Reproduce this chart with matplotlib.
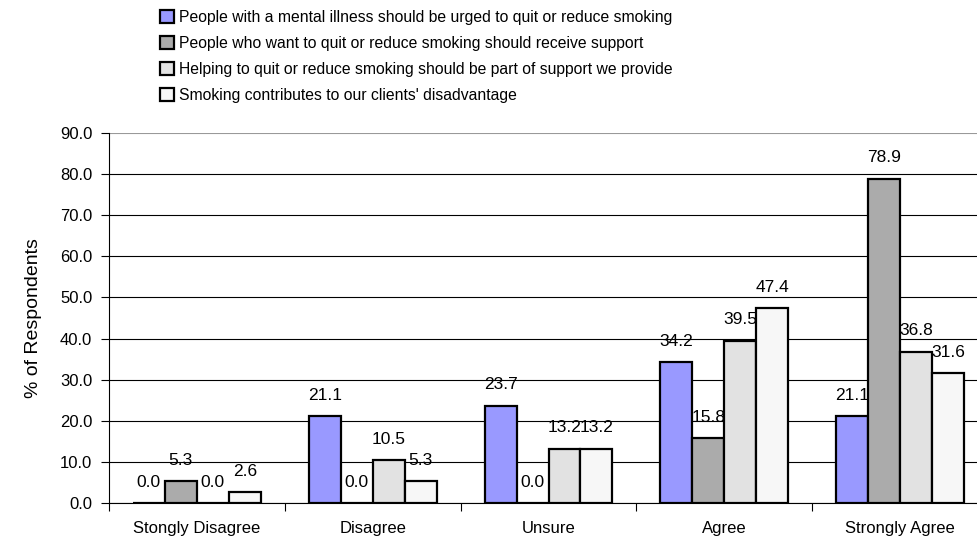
import matplotlib.pyplot as plt
import numpy as np

plt.rcParams['font.family'] = ['Liberation Sans', 'DejaVu Sans']

categories = ["Stongly Disagree", "Disagree", "Unsure", "Agree", "Strongly Agree"]
series_names = [
    "People with a mental illness should be urged to quit or reduce smoking",
    "People who want to quit or reduce smoking should receive support",
    "Helping to quit or reduce smoking should be part of support we provide",
    "Smoking contributes to our clients' disadvantage",
]
urged = [0.0, 21.1, 23.7, 34.2, 21.1]
support = [5.3, 0.0, 0.0, 15.8, 78.9]
part_of = [0.0, 10.5, 13.2, 39.5, 36.8]
disadvantage = [2.6, 5.3, 13.2, 47.4, 31.6]
colors = ["#9999FF", "#ABABAB", "#E2E2E2", "#F7F7F7"]

fig = plt.figure(figsize=(9.77, 5.42), dpi=100)
ax = fig.add_axes([109/977, 39/542, 879/977, 370/542])

x = np.arange(len(categories))
w = 0.182
all_series = [urged, support, part_of, disadvantage]
handles = []
for i, vals in enumerate(all_series):
    pos = x + (i - 1.5) * w
    bars = ax.bar(pos, vals, width=w, color=colors[i], edgecolor="black",
                  linewidth=1.6, zorder=3, label=series_names[i])
    handles.append(bars)
    for px, v in zip(pos, vals):
        ax.annotate(f"{v:.1f}", (px, v), xytext=(0, 15), textcoords="offset points",
                    ha="center", va="center", fontsize=12.5, zorder=4)

ax.set_xlim(-0.5, 4.5)
ax.set_ylim(0, 90)
ax.set_yticks(np.arange(0, 91, 10))
ax.set_yticklabels([f"{t:.1f}" for t in np.arange(0, 91, 10)], fontsize=12)
ax.yaxis.grid(True, color="black", linewidth=0.8, zorder=0)
ax.get_ygridlines()[-1].set_color("#999999")
ax.set_axisbelow(True)

ax.set_xticks(np.arange(-0.5, 4.6, 1.0))
ax.set_xticklabels([])
ax.set_xticks(x, minor=True)
ax.set_xticklabels(categories, minor=True, fontsize=12)
ax.tick_params(axis="x", which="minor", length=0, pad=13)
ax.tick_params(axis="x", which="major", length=6, direction="out", width=0.8)
ax.tick_params(axis="y", length=6, direction="out", width=0.8, pad=6)

for s in ["top", "right"]:
    ax.spines[s].set_visible(False)
ax.spines["left"].set_linewidth(0.8)
ax.spines["bottom"].set_linewidth(0.8)

ax.set_ylabel("% of Respondents", fontsize=14, labelpad=13)

fig.legend(handles=handles, loc="upper left", bbox_to_anchor=(160/977, 0.982),
           frameon=False, fontsize=11.3, handlelength=0.9, handleheight=0.9,
           handletextpad=0.3, labelspacing=0.7, borderpad=0, borderaxespad=0)

fig.savefig("out.png", dpi=100)
